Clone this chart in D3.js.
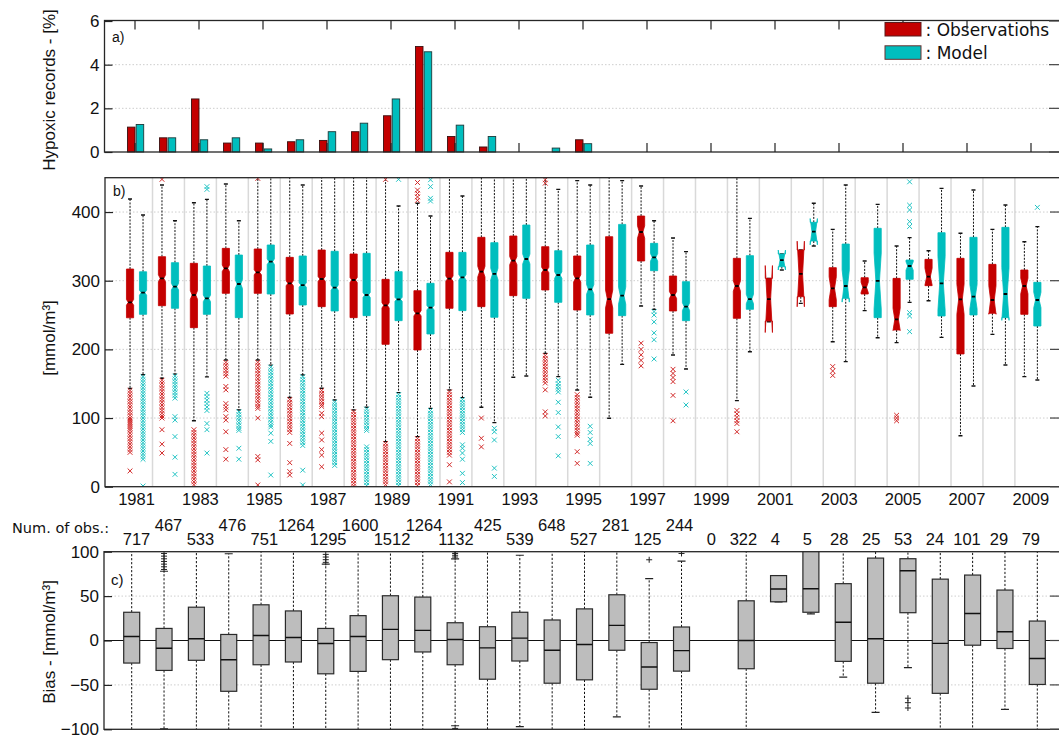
<!DOCTYPE html>
<html>
<head>
<meta charset="utf-8">
<script src="https://cdn.jsdelivr.net/npm/d3@7"></script>
<style>
  body { margin: 0; background: #fff; }
  svg { display: block; }
  text { font-family: "Liberation Sans", Arial, Helvetica, sans-serif; fill: #111; }
  text.dv { font-family: "DejaVu Sans", sans-serif; }
</style>
</head>
<body>
<svg id="chart" width="1059" height="738"></svg>
<script>
// ---------- data ----------
const years = d3.range(1981, 2010);
const oddYears = [1981, 1983, 1985, 1987, 1989, 1991, 1993, 1995, 1997, 1999, 2001, 2003, 2005, 2007, 2009];

// a) share of hypoxic records [%]
const hypoxObs = [1.14, 0.65, 2.43, 0.41, 0.41, 0.47, 0.53, 0.93, 1.66, 4.83, 0.71, 0.23, 0, 0, 0.56, 0, 0, 0, 0, 0, 0, 0, 0, 0, 0, 0, 0, 0, 0];
const hypoxMod = [1.26, 0.65, 0.56, 0.65, 0.14, 0.56, 0.93, 1.32, 2.43, 4.59, 1.23, 0.71, 0, 0.18, 0.38, 0, 0, 0, 0, 0, 0, 0, 0, 0, 0, 0, 0, 0, 0];

// number of observations per year
const nObs = [717, 467, 533, 476, 751, 1264, 1295, 1600, 1512, 1264, 1132, 425, 539, 648, 527, 281, 125, 244, 0, 322, 4, 5, 28, 25, 53, 24, 101, 29, 79];

// b) oxygen [mmol/m3] box statistics, observations
const obsLo  = [143, 158, 96, 184.5, 184.5, 130, 143.3, 111.7, 65.6, 72.9, 140.8, 115.6, 159.3, 194.2, 140.8, 99.6, 263.2, 191.8, null, 125.3, 240.3, 267, 211.2, 256.4, 209.8, 270.9, 74.3, 221.9, 160.3];
const obsQ1  = [246, 263.6, 231.6, 281.6, 281.6, 251.5, 262.2, 246.2, 207.3, 199.1, 259.8, 262.2, 278.2, 286.5, 257.3, 223.4, 328.7, 255.9, null, 245.2, 241.3, 276.7, 262.2, 280.6, 228.2, 292.8, 193.3, 252.5, 251];
const obsMed = [268.5, 303.4, 279.2, 318, 312.2, 296.2, 302.5, 301, 264.1, 252.5, 303, 313.2, 329.2, 315.6, 303.4, 273.3, 370.9, 279.2, null, 292.3, 273.3, 309.8, 288.9, 290.3, 243.7, 305.9, 272.9, 271.9, 292.3];
const obsQ3  = [317, 335, 325.3, 347.1, 346.2, 334, 344.7, 338.9, 302, 285.5, 341.3, 363.2, 365.1, 349.6, 336, 364.1, 394.2, 306.8, null, 332.6, 303.4, 344.7, 319, 304.4, 303.4, 331.1, 332.6, 323.8, 315.6];
const obsHi  = [419, 439.4, 413.6, 440.8, 462, 462, 462, 462, 462, 412.7, 462, 462, 462, 462, 445.7, 462, 437.9, 362.2, null, 462, 303.4, 344.7, 374.8, 328.7, 350.5, 343.7, 369, 374.8, 356.8];
const obsOut = [
  [140, 136, 132, 128, 124, 120, 116, 112, 108, 104, 100, 97, 94, 91, 88, 85, 82, 78, 74, 70, 66, 62, 58, 54, 50, 23],
  [447.6, 155, 151, 147, 143, 139, 135, 131, 127, 123, 119, 115, 111, 107, 103, 100, 83, 62, 49],
  [83, 79, 75, 71, 67, 63, 59, 55, 51, 47, 43, 39, 35, 31, 27, 23, 19, 15, 11, 7, 3],
  [181, 177, 173, 169, 165, 161, 146, 141, 121, 116, 112, 102, 97, 80, 54, 40],
  [449, 181, 177, 173, 169, 165, 161, 157, 153, 149, 145, 141, 137, 133, 129, 125, 121, 117, 114, 100, 44, 39, 2.5],
  [127, 123, 119, 115, 111, 107, 103, 99, 95, 91, 87, 83, 79, 63, 35, 22, 17],
  [140, 136, 132, 128, 124, 120, 117, 107, 102, 78, 68, 54, 46, 29],
  [109, 105, 101, 97, 93, 89, 85, 81, 77, 73, 69, 65, 61, 57, 53, 49, 45, 41, 37, 33, 29, 25, 21, 17, 13, 9, 5, 1],
  [447.6, 63, 59, 55, 51, 47, 43, 39, 35, 31, 27, 23, 19, 15, 11, 7, 3],
  [443, 432, 427, 422, 417, 70, 66, 62, 58, 54, 50, 46, 42, 38, 34, 30, 26, 22, 18, 14, 10, 6, 2],
  [138, 134, 130, 126, 122, 118, 114, 110, 106, 102, 98, 94, 90, 86, 82, 78, 74, 70, 66, 62, 58, 54, 50, 46, 32, 7],
  [100, 70.5, 58],
  [],
  [447, 442, 191, 187, 183, 179, 175, 171, 167, 163, 159, 155, 151, 141, 109, 103],
  [134, 130, 126, 122, 118, 114, 110, 106, 102, 98, 94, 90, 86, 82, 78, 75, 51, 34],
  [],
  [209, 200, 192, 184, 176],
  [171, 165, 159, 153, 133, 96],
  [],
  [111, 106, 101, 96, 92, 80],
  [], [], [175, 168.5, 162], [], [104, 100, 96], [], [], [], []
];

// b) oxygen [mmol/m3] box statistics, model
const modLo  = [163, 164, 160, 111.7, 177, 162.7, 126.3, 115.6, 137, 114, 129.7, 93.3, 161.2, 160.3, 130.2, 178.2, 258.3, 171.4, null, 196.6, 315.6, 350.5, 182.1, 217, 268.5, 217.5, 146.7, 177.2, 155.4];
const modQ1  = [251, 259.8, 251, 246.2, 280.6, 264.6, 255.9, 249.1, 241.8, 222.4, 256.4, 246.7, 274.3, 268.5, 250.1, 249.1, 314.6, 241.8, null, 258.3, 320.4, 357.8, 274.3, 246.2, 302, 248.6, 250.1, 246.2, 234];
const modMed = [282.6, 291.3, 274.3, 295.2, 327.7, 293.7, 289.9, 279.2, 272.9, 260.7, 304.9, 309.8, 331.6, 308.3, 287.4, 278.2, 334, 262.2, null, 273.3, 330.1, 371.4, 292.3, 299.6, 321.4, 296.2, 276.7, 280.6, 271.9];
const modQ3  = [313, 326.3, 321.4, 337.4, 352, 336, 342.8, 339.9, 313.2, 296.2, 341.3, 355.4, 381.1, 343.7, 352, 382, 354.4, 298.6, null, 336.5, 338.9, 385, 353.4, 376.3, 330.1, 369.9, 363.2, 377.7, 297.6];
const modHi  = [395.7, 387.4, 418.5, 387.4, 462, 439.4, 462, 462, 408.8, 394.2, 423.3, 462, 462, 433, 439.4, 445.7, 387.4, 342.3, null, 390.8, 338.9, 412.7, 439.4, 411.2, 362.7, 434.5, 432, 410.2, 378.7];
const modOut = [
  [160, 156, 152, 148, 144, 140, 136, 132, 128, 124, 120, 116, 112, 108, 104, 100, 96, 92, 88, 84, 80, 76, 72, 68, 64, 60, 56, 52, 48, 44, 40, 1],
  [161, 157, 153, 149, 145, 141, 137, 133, 129, 102, 97, 73, 43, 18],
  [437, 433, 136, 131, 126, 121, 116, 111, 92, 83, 49],
  [109, 105, 101, 97, 93, 89, 85, 82, 56, 40],
  [174, 170, 166, 162, 158, 154, 150, 146, 142, 138, 134, 130, 126, 122, 118, 114, 110, 106, 102, 98, 94, 90, 87, 78, 66, 17],
  [160, 156, 152, 148, 144, 140, 136, 132, 128, 124, 120, 116, 112, 108, 104, 100, 96, 92, 88, 84, 80, 76, 72, 68, 64, 60, 24, 2.5],
  [123, 119, 115, 111, 107, 103, 99, 95, 91, 87, 83, 79, 75, 71, 67, 63, 59, 55, 51, 47, 43, 39, 35, 31],
  [113, 109, 105, 101, 97, 93, 89, 85, 82, 58, 54, 50, 46, 42, 38, 34, 30, 26, 22, 18, 14, 10, 6, 2],
  [447.6, 134, 130, 126, 122, 118, 114, 110, 106, 102, 98, 94, 90, 86, 82, 78, 74, 70, 66, 62, 58, 54, 50, 46, 42, 38, 34, 30, 26, 22, 18, 14, 10, 6, 2],
  [447, 437, 420, 416, 111, 107, 103, 99, 95, 91, 87, 83, 79, 75, 71, 67, 63, 59, 55, 51, 47, 43, 39, 35, 31, 27, 23, 19, 15, 11, 7, 3],
  [127, 123, 119, 115, 111, 107, 103, 99, 95, 91, 87, 83, 79, 61, 56, 49, 40, 19.5, 6],
  [85, 80, 68, 27, 15],
  [],
  [155, 150, 146, 142, 138, 123, 108, 87, 73, 45],
  [88, 79, 69, 63, 34],
  [],
  [255, 250, 240, 224, 214, 186],
  [138, 119],
  [],
  [],
  [], [], [], [], [444, 410, 403, 386, 379, 253.5, 248.6, 225.8], [], [], [], [406.8]
];

// c) model bias [mmol/m3] box statistics
const biasLo  = [-110, -99.5, -110, -110, -110, -110, -110, -110, -110, -110, -96, -110, -97, -110, -110, -86, -110, -110, null, -110, 43.6, 30, -41.3, -81, -30.6, -110, -110, -77.5, -110];
const biasQ1  = [-25.4, -33.7, -22.3, -57.2, -27.3, -24.2, -37.5, -34.8, -21.6, -12.9, -27.3, -43.6, -23.1, -48.1, -44.3, -11, -54.9, -34.5, null, -31.8, 43.6, 31.8, -23.5, -48.1, 31.3, -59.5, -5.3, -9, -49.5];
const biasMed = [4.5, -8.7, 1.9, -21.6, 5.7, 3.4, -3.4, 4.5, 12.5, 11.4, 1.1, -8.3, 2.7, -11, -4.5, 17, -29.9, -11.4, null, 0, 58, 58.3, 20.5, 1.9, 78.6, -3.2, 30.4, 9.9, -20.2];
const biasQ3  = [31.8, 13.6, 37.5, 6.8, 40.2, 33.3, 13.6, 28, 50.4, 48.9, 20, 15.5, 31.8, 23.1, 35.6, 51.5, -2.3, 15.2, null, 44.7, 73.1, 115, 64, 92.8, 92.1, 69.1, 73.7, 56.8, 21.9];
const biasHi  = [110, 78, 110, 97.7, 110, 110, 86, 110, 110, 110, 92, 110, 96, 110, 110, 110, 69.7, 89.4, null, 110, 73.1, 120, 110, 110, 105, 110, 110, 110, 110];
const biasOut = [[], [98, 95, 92, 89, 86, 83, 80], [], [], [], [], [97, 94, 91, 88], [], [], [], [100, 98, 96, 94, -99], [], [], [], [], [], [90.9], [98], [], [], [], [], [], [], [-65, -70, -76], [], [], [], []];

const tickA = [0, 2, 4, 6];
const tickB = [0, 100, 200, 300, 400];
const tickC = [-100, -50, 0, 50, 100];

// ---------- drawing ----------
const RED = "#c40000", CYAN = "#00bebe";
const RED_X = "#d22a2a", CYAN_X = "#22c4c4";
const svg = d3.select("#chart");
svg.append("rect").attr("width", 1059).attr("height", 738).attr("fill", "#fff");

const A = { l: 104.5, r: 1062, t: 20.5, b: 152 };
const B = { l: 105, r: 1063, t: 177.7, b: 486.7 };
const C = { l: 104, r: 1063, t: 551.7, b: 729.3 };

const xa = d3.scaleLinear().domain([1980, 2010]).range([103, 1063]);
const ya = d3.scaleLinear().domain([0, 6]).range([152, 21]);
const xb = d3.scaleLinear().domain([1980, 2010]).range([104.6, 1062.8]);
const yb = d3.scaleLinear().domain([0, 450]).range([486.7, 177.7]);
const xc = d3.scaleLinear().domain([1981, 2009]).range([131.7, 1037.3]);
const yc = d3.scaleLinear().domain([-100, 100]).range([729.3, 551.7]);

const defs = svg.append("defs");
[["clipB", B], ["clipC", C]].forEach(([id, P]) => {
  defs.append("clipPath").attr("id", id).append("rect")
    .attr("x", P.l).attr("y", P.t).attr("width", P.r - P.l).attr("height", P.b - P.t);
});

function hGrid(P, y, vals) {
  vals.forEach(v => {
    svg.append("line").attr("x1", P.l).attr("x2", P.r).attr("y1", y(v)).attr("y2", y(v))
      .attr("stroke", "#c8c8c8").attr("stroke-width", 0.9).attr("stroke-dasharray", "1.5,2");
  });
}
function frame(P) {
  svg.append("rect").attr("x", P.l).attr("y", P.t).attr("width", P.r - P.l).attr("height", P.b - P.t)
    .attr("fill", "none").attr("stroke", "#262626").attr("stroke-width", 1.3);
}
function yAxis(P, y, vals, fs) {
  const g = svg.append("g").attr("transform", `translate(${P.l},0)`)
    .call(d3.axisLeft(y).tickValues(vals).tickSize(-8).tickPadding(5).tickFormat(d3.format("d")));
  g.select(".domain").remove();
  g.selectAll("line").attr("stroke", "#222").attr("stroke-width", 1.2);
  g.selectAll("text").attr("font-size", fs).attr("fill", "#111");
  // inward ticks on the right-hand side
  vals.forEach(v => {
    svg.append("line").attr("x1", P.r - 13).attr("x2", P.r).attr("y1", y(v)).attr("y2", y(v))
      .attr("stroke", "#444").attr("stroke-width", 1.2);
  });
}
function yTitle(text, cy) {
  svg.append("text").attr("transform", `translate(55,${cy}) rotate(-90)`)
    .attr("text-anchor", "middle").attr("font-size", 17).text(text);
}
function xMark(g, x, y, col) {
  const s = 2.4;
  g.append("path").attr("d", `M${x - s},${y - s}L${x + s},${y + s}M${x - s},${y + s}L${x + s},${y - s}`)
    .attr("stroke", col).attr("stroke-width", 1).attr("fill", "none");
}
function plusMark(g, x, y) {
  const s = 3;
  g.append("path").attr("d", `M${x - s},${y}L${x + s},${y}M${x},${y - s}L${x},${y + s}`)
    .attr("stroke", "#222").attr("stroke-width", 1).attr("fill", "none");
}

// ===== panel a =====
hGrid(A, ya, [2, 4]);
const ga = svg.append("g");
years.forEach((yr, i) => {
  const c = xa(yr);
  if (hypoxObs[i] > 0) {
    ga.append("rect").attr("x", c - 7.5).attr("width", 7.5)
      .attr("y", ya(hypoxObs[i])).attr("height", ya(0) - ya(hypoxObs[i]))
      .attr("fill", RED).attr("stroke", "#3a1010").attr("stroke-width", 0.9);
  }
  if (hypoxMod[i] > 0) {
    ga.append("rect").attr("x", c + 1.2).attr("width", 7.5)
      .attr("y", ya(hypoxMod[i])).attr("height", ya(0) - ya(hypoxMod[i]))
      .attr("fill", CYAN).attr("stroke", "#1c3a3a").attr("stroke-width", 0.9);
  }
});
frame(A);
oddYears.forEach(yr => {
  svg.append("line").attr("x1", xa(yr)).attr("x2", xa(yr)).attr("y1", A.t).attr("y2", A.t + 9)
    .attr("stroke", "#222").attr("stroke-width", 1.2);
  svg.append("line").attr("x1", xa(yr)).attr("x2", xa(yr)).attr("y1", A.b).attr("y2", A.b - 9)
    .attr("stroke", "#222").attr("stroke-width", 1.2);
});
yAxis(A, ya, tickA, 17);
svg.append("text").attr("x", 112).attr("y", 42).attr("font-size", 14).text("a)");
yTitle("Hypoxic records - [%]", 90);

// legend
const legend = [[RED, "#5a1a1a", ": Observations"], [CYAN, "#6a3030", ": Model"]];
legend.forEach(([fill, stroke, label], k) => {
  const y0 = 22.5 + k * 23.3;
  svg.append("rect").attr("x", 885).attr("y", y0).attr("width", 36).attr("height", 13.5)
    .attr("fill", fill).attr("stroke", stroke).attr("stroke-width", 1);
  svg.append("text").attr("class", "dv").attr("x", 925.5).attr("y", y0 + 13.2)
    .attr("font-size", 17).text(label);
});

// ===== panel b =====
const gridB = svg.append("g");
d3.range(1981, 2009).forEach(yr => {
  gridB.append("line").attr("x1", xb(yr + 0.5)).attr("x2", xb(yr + 0.5)).attr("y1", B.t).attr("y2", B.b)
    .attr("stroke", "#d9d9d9").attr("stroke-width", 1.5);
});
hGrid(B, yb, [100, 200, 300, 400]);

const gb = svg.append("g").attr("clip-path", "url(#clipB)");
function drawSeries(lo, q1, med, q3, hi, out, dx, col, xcol) {
  years.forEach((yr, i) => {
    if (med[i] == null || nObs[i] === 0) return;
    const cx = xb(yr) + dx, w = 7.2;
    // whiskers
    [[q3[i], hi[i]], [q1[i], lo[i]]].forEach(([a, b]) => {
      gb.append("line").attr("x1", cx).attr("x2", cx).attr("y1", yb(a)).attr("y2", yb(b))
        .attr("stroke", "#111").attr("stroke-width", 1).attr("stroke-dasharray", "2,1.4");
      gb.append("line").attr("x1", cx - 2).attr("x2", cx + 2).attr("y1", yb(b)).attr("y2", yb(b))
        .attr("stroke", "#111").attr("stroke-width", 1.4);
    });
    // notched box; notch half-width from the usual 1.57*IQR/sqrt(n)
    const h = 1.57 * (q3[i] - q1[i]) / Math.sqrt(nObs[i]);
    const L = cx - w / 2, R = cx + w / 2, ins = w / 4;
    const pts = [
      [L, yb(q3[i])], [R, yb(q3[i])], [R, yb(med[i] + h)], [R - ins, yb(med[i])], [R, yb(med[i] - h)],
      [R, yb(q1[i])], [L, yb(q1[i])], [L, yb(med[i] - h)], [L + ins, yb(med[i])], [L, yb(med[i] + h)]
    ];
    gb.append("path").attr("d", d3.line()(pts) + "Z")
      .attr("fill", col).attr("stroke", col).attr("stroke-width", 0.8);
    gb.append("line").attr("x1", L + ins).attr("x2", R - ins).attr("y1", yb(med[i])).attr("y2", yb(med[i]))
      .attr("stroke", "#000").attr("stroke-width", 1.8);
    out[i].forEach(v => xMark(gb, cx, yb(v), xcol));
  });
}
drawSeries(obsLo, obsQ1, obsMed, obsQ3, obsHi, obsOut, -6.5, RED, RED_X);
drawSeries(modLo, modQ1, modMed, modQ3, modHi, modOut, 6.5, CYAN, CYAN_X);
frame(B);
yAxis(B, yb, tickB, 17);
svg.append("text").attr("x", 113).attr("y", 196).attr("font-size", 14).text("b)");
yTitle("[mmol/m\u00B3]", 338);
oddYears.forEach(yr => {
  svg.append("text").attr("x", xb(yr)).attr("y", 505).attr("text-anchor", "middle")
    .attr("font-size", 16.5).text(yr);
});

// number of observations
svg.append("text").attr("class", "dv").attr("x", 12).attr("y", 533)
  .attr("font-size", 14.5).text("Num. of obs.:");
years.forEach((yr, i) => {
  const upper = (i % 2 === 1) && yr < 1999;
  svg.append("text").attr("x", xb(yr)).attr("y", upper ? 530.5 : 545)
    .attr("text-anchor", "middle").attr("font-size", 16.5).text(nObs[i]);
});

// ===== panel c =====
hGrid(C, yc, [-50, 50]);
svg.append("line").attr("x1", C.l).attr("x2", C.r).attr("y1", yc(0)).attr("y2", yc(0))
  .attr("stroke", "#111").attr("stroke-width", 1.2);
const gc = svg.append("g").attr("clip-path", "url(#clipC)");
years.forEach((yr, i) => {
  if (biasMed[i] == null || nObs[i] === 0) return;
  const cx = xc(yr), w = 16;
  [[biasQ3[i], biasHi[i]], [biasQ1[i], biasLo[i]]].forEach(([a, b]) => {
    gc.append("line").attr("x1", cx).attr("x2", cx).attr("y1", yc(a)).attr("y2", yc(b))
      .attr("stroke", "#111").attr("stroke-width", 1).attr("stroke-dasharray", "2.2,1.8");
    gc.append("line").attr("x1", cx - 4).attr("x2", cx + 4).attr("y1", yc(b)).attr("y2", yc(b))
      .attr("stroke", "#222").attr("stroke-width", 1.2);
  });
  gc.append("rect").attr("x", cx - w / 2).attr("width", w)
    .attr("y", yc(biasQ3[i])).attr("height", yc(biasQ1[i]) - yc(biasQ3[i]))
    .attr("fill", "#bdbdbd").attr("stroke", "#2a2a2a").attr("stroke-width", 1.2);
  gc.append("line").attr("x1", cx - w / 2).attr("x2", cx + w / 2).attr("y1", yc(biasMed[i])).attr("y2", yc(biasMed[i]))
    .attr("stroke", "#111").attr("stroke-width", 1.4);
  biasOut[i].forEach(v => plusMark(gc, cx, yc(v)));
});
frame(C);
yAxis(C, yc, tickC, 17);
svg.append("text").attr("x", 111).attr("y", 585).attr("font-size", 15).text("c)");
yTitle("Bias - [mmol/m\u00B3]", 642);
</script>
</body>
</html>
